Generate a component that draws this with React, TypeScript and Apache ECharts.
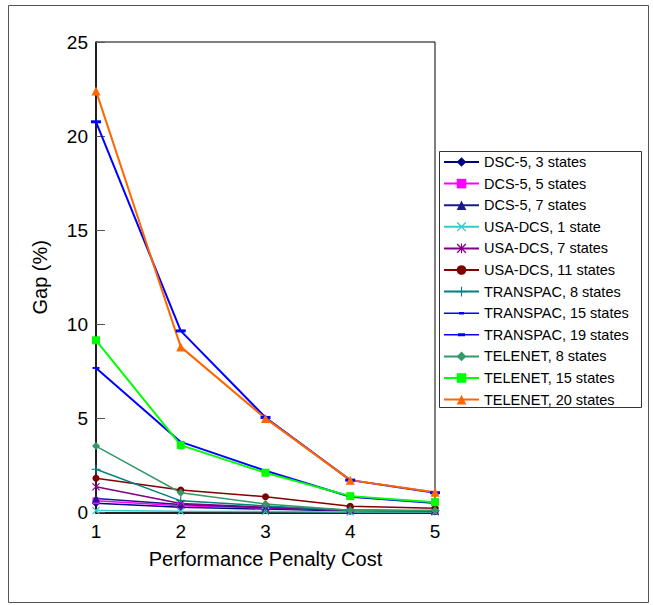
import React, { useEffect, useRef } from "react";
import * as echarts from "echarts";

const xValues = [1, 2, 3, 4, 5];
const seriesNames = [
  "DSC-5, 3 states",
  "DCS-5, 5 states",
  "DCS-5, 7 states",
  "USA-DCS, 1 state",
  "USA-DCS, 7 states",
  "USA-DCS, 11 states",
  "TRANSPAC, 8 states",
  "TRANSPAC, 15 states",
  "TRANSPAC, 19 states",
  "TELENET, 8 states",
  "TELENET, 15 states",
  "TELENET, 20 states",
];
const dsc5_3 = [0.49, 0.28, 0.18, 0.08, 0.05];
const dcs5_5 = [0.62, 0.36, 0.24, 0.12, 0.08];
const dcs5_7 = [0.75, 0.42, 0.26, 0.12, 0.08];
const usa_1 = [0.1, 0.06, 0.05, 0.03, 0.02];
const usa_7 = [1.37, 0.48, 0.28, 0.12, 0.08];
const usa_11 = [1.82, 1.2, 0.84, 0.33, 0.22];
const transpac_8 = [2.3, 0.62, 0.35, 0.12, 0.1];
const transpac_15 = [7.68, 3.75, 2.22, 0.84, 0.5];
const transpac_19 = [20.76, 9.65, 5.05, 1.72, 1.05];
const telenet_8 = [3.53, 1.05, 0.45, 0.12, 0.1];
const telenet_15 = [9.15, 3.58, 2.11, 0.87, 0.55];
const telenet_20 = [22.4, 8.8, 5.0, 1.72, 1.07];
const yTicks = [0, 5, 10, 15, 20, 25];

const allData = [dsc5_3, dcs5_5, dcs5_7, usa_1, usa_7, usa_11, transpac_8, transpac_15, transpac_19, telenet_8, telenet_15, telenet_20];

const X_PATH = "path://M0,1L1,0L5,4L9,0L10,1L6,5L10,9L9,10L5,6L1,10L0,9L4,5Z";
const PLUS_PATH = "path://M4.4,0H5.6V4.4H10V5.6H5.6V10H4.4V5.6H0V4.4H4.4Z";
const STAR_PATH = "path://M0,1L1,0L5,4L9,0L10,1L6,5L10,9L9,10L5,6L1,10L0,9L4,5Z M4.4,0H5.6V10H4.4Z";
const DASH_ICON_SMALL = "path://M0,0.75H15V0.25H20V0.75H35V2.25H20V2.75H15V2.25H0Z";
const DASH_ICON_BIG = "path://M0,0.75H14V0H21V0.75H35V2.25H21V3H14V2.25H0Z";

const styles: any[] = [
  { color: "#000080", symbol: "diamond", size: 8, width: 1.5 },
  { color: "#ff00ff", symbol: "rect", size: 7, width: 1.5 },
  { color: "#1a1a8c", symbol: "triangle", size: 8, width: 1.5 },
  { color: "#33cccc", symbol: X_PATH, size: 8, width: 1.5 },
  { color: "#800080", symbol: STAR_PATH, size: 8, width: 1.5 },
  { color: "#800000", symbol: "circle", size: 7, width: 1.5 },
  { color: "#008080", symbol: PLUS_PATH, size: 9, width: 1.5 },
  { color: "#0000ff", symbol: "rect", size: [7, 2], width: 2, icon: DASH_ICON_SMALL },
  { color: "#0000ff", symbol: "rect", size: [10, 3], width: 2, icon: DASH_ICON_BIG },
  { color: "#339966", symbol: "diamond", size: 8, width: 1.5 },
  { color: "#00ff00", symbol: "rect", size: 8, width: 2 },
  { color: "#ff6600", symbol: "triangle", size: 9, width: 2 },
];

const FONT = "'Liberation Sans', Arial, sans-serif";

export default function App() {
  const ref = useRef<HTMLDivElement>(null);
  useEffect(() => {
    if (!ref.current) return;
    const chart = echarts.init(ref.current, null, { renderer: "svg" });
    const series = seriesNames.map((name, i) => ({
      name,
      type: "line",
      data: xValues.map((x, j) => [x, allData[i][j]]),
      symbol: styles[i].symbol,
      symbolSize: styles[i].size,
      showSymbol: true,
      lineStyle: { color: styles[i].color, width: styles[i].width },
      itemStyle: { color: styles[i].color },
      emphasis: { disabled: true },
    }));
    const legendData = seriesNames.map((name, i) =>
      styles[i].icon ? { name, icon: styles[i].icon } : { name }
    );
    chart.setOption({
      animation: false,
      backgroundColor: "#ffffff",
      textStyle: { fontFamily: FONT },
      graphic: [
        {
          type: "rect",
          shape: { x: 8.5, y: 5.5, width: 640, height: 597 },
          style: { fill: "none", stroke: "#555", lineWidth: 1 },
          z: 0,
        },
        {
          type: "rect",
          shape: { x: 439.5, y: 151.5, width: 202, height: 256 },
          style: { fill: "#fff", stroke: "#333", lineWidth: 1 },
          z: 1,
        },
      ],
      grid: {
        left: 96,
        top: 42,
        right: 218,
        bottom: 92.5,
        show: true,
        borderColor: "#000",
        borderWidth: 1,
        backgroundColor: "transparent",
      },
      legend: {
        orient: "vertical",
        left: 443,
        top: 154.5,
        itemWidth: 35,
        itemHeight: 12,
        itemGap: 6.6,
        padding: 0,
        symbolKeepAspect: true,
        textStyle: { fontSize: 14.5, color: "#000", fontFamily: FONT },
        data: legendData,
        z: 5,
      },
      xAxis: {
        type: "value",
        min: 1,
        max: 5,
        interval: 1,
        axisLine: { show: true, lineStyle: { color: "#222", width: 2 } },
        axisTick: { show: false },
        splitLine: { show: false },
        axisLabel: { fontSize: 19, color: "#000", margin: 9, fontFamily: FONT },
        name: "Performance Penalty Cost",
        nameLocation: "middle",
        nameGap: 36,
        nameTextStyle: { fontSize: 20, color: "#000", fontFamily: FONT },
      },
      yAxis: {
        type: "value",
        min: 0,
        max: 25,
        interval: 5,
        axisLine: { show: true, lineStyle: { color: "#000", width: 1.5 } },
        axisTick: { show: true, inside: true, length: 9, lineStyle: { color: "#555" } },
        splitLine: { show: false },
        axisLabel: {
          fontSize: 19,
          color: "#000",
          margin: 8,
          fontFamily: FONT,
          formatter: (v: number) => (yTicks.includes(v) ? String(v) : ""),
        },
        name: "Gap (%)",
        nameLocation: "middle",
        nameGap: 46,
        nameTextStyle: { fontSize: 20, color: "#000", fontFamily: FONT },
      },
      series,
    });
    return () => chart.dispose();
  }, []);
  return (
    <div
      ref={ref}
      style={{ position: "absolute", left: 0, top: 0, width: 653, height: 605 }}
    />
  );
}
